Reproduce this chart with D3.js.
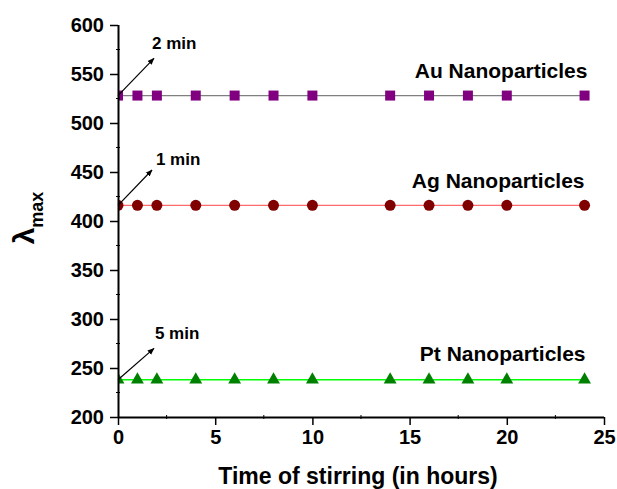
<!DOCTYPE html>
<html lang="en">

<head>
    <meta charset="UTF-8">
    <title>lambda max vs time of stirring</title>
    <script src="https://d3js.org/d3.v7.min.js"></script>
    <style>
        body {
            margin: 0;
            background: white;
            font-family: "Liberation Sans", Arial, Helvetica, sans-serif;
        }

        svg text {
            font-weight: bold;
            fill: black;
        }
    </style>
</head>

<body>
    <svg id="vis" width="617" height="489"></svg>
    <script>
        // stirring time (hours)
        const hours = [0, 1, 2, 4, 6, 8, 10, 14, 16, 18, 20, 24];

        // lambda max (nm) for each metal
        const auValues = [528, 528, 528, 528, 528, 528, 528, 528, 528, 528, 528, 528];
        const agValues = [416, 416, 416, 416, 416, 416, 416, 416, 416, 416, 416, 416];
        const ptValues = [238, 238, 238, 238, 238, 238, 238, 238, 238, 238, 238, 238];

        const seriesNames = ["Au Nanoparticles", "Ag Nanoparticles", "Pt Nanoparticles"];

        // where the series names sit (data units)
        const nameX = [24.15, 24.0, 24.05];
        const nameY = [546, 433.5, 257];

        // formation time annotations
        const annoLabels = ["2 min", "1 min", "5 min"];
        const annoHeadX = [1.85, 1.75, 1.85];
        const annoHeadY = [566, 452, 270];
        const annoTextX = [1.75, 1.95, 1.9];
        const annoTextY = [575.5, 457, 279.5];

        const xTicks = [0, 5, 10, 15, 20, 25];
        const yTicks = [200, 250, 300, 350, 400, 450, 500, 550, 600];

        const svg = d3.select("#vis");
        const mLeft = 118, mRight = 604, mTop = 25, mBottom = 417;

        const x = d3.scaleLinear().domain([0, 25]).range([mLeft, mRight]);
        const y = d3.scaleLinear().domain([200, 600]).range([mBottom, mTop]);

        const series = [
            { values: auValues, line: "#808080", fill: "#800080", shape: d3.symbolSquare, size: 100 },
            { values: agValues, line: "#ff6a6a", fill: "#800000", shape: d3.symbolCircle, size: 95 },
            { values: ptValues, line: "#00ff00", fill: "#008000", shape: d3.symbolTriangle, size: 72 }
        ];

        const defs = svg.append("defs");
        defs.append("clipPath").attr("id", "plot")
            .append("rect")
            .attr("x", mLeft).attr("y", 0)
            .attr("width", mRight - mLeft + 20).attr("height", mBottom);

        defs.append("marker")
            .attr("id", "head")
            .attr("viewBox", "0 0 10 10")
            .attr("refX", 9).attr("refY", 5)
            .attr("markerWidth", 7).attr("markerHeight", 7)
            .attr("markerUnits", "userSpaceOnUse")
            .attr("orient", "auto")
            .append("path")
            .attr("d", "M0,1 L10,5 L0,9 Z")
            .attr("fill", "black");

        // series lines + markers
        const plot = svg.append("g").attr("clip-path", "url(#plot)");
        const line = d3.line().x((d, i) => x(hours[i])).y(d => y(d));

        series.forEach(s => {
            plot.append("path")
                .attr("d", line(s.values))
                .attr("fill", "none")
                .attr("stroke", s.line)
                .attr("stroke-width", 1.3);

            plot.selectAll(null)
                .data(s.values)
                .join("path")
                .attr("transform", (d, i) => `translate(${x(hours[i])},${y(d)})`)
                .attr("d", d3.symbol().type(s.shape).size(s.size))
                .attr("fill", s.fill);
        });

        // axes
        const xAxis = svg.append("g")
            .attr("transform", `translate(0,${mBottom})`)
            .call(d3.axisBottom(x).tickValues(xTicks).tickSize(8).tickPadding(5).tickFormat(d3.format("d")));
        const yAxis = svg.append("g")
            .attr("transform", `translate(${mLeft},0)`)
            .call(d3.axisLeft(y).tickValues(yTicks).tickSize(8).tickPadding(6).tickFormat(d3.format("d")));

        [xAxis, yAxis].forEach(g => {
            g.select(".domain").attr("stroke", "black").attr("stroke-width", 2);
            g.selectAll(".tick line").attr("stroke", "black").attr("stroke-width", 1.5);
            g.selectAll(".tick text")
                .attr("font-size", 20)
                .attr("font-family", "Liberation Sans, Arial, sans-serif");
        });
        xAxis.select(".domain").attr("d", `M${mLeft},0.5H${mRight}`);
        yAxis.select(".domain").attr("d", `M0.5,${mBottom}V${mTop}`);

        // minor ticks
        const xMinor = d3.range(2.5, 25, 5);
        const yMinor = d3.range(225, 600, 50);
        svg.append("g").selectAll("line")
            .data(xMinor)
            .join("line")
            .attr("x1", d => x(d)).attr("x2", d => x(d))
            .attr("y1", mBottom - 2).attr("y2", mBottom + 2)
            .attr("stroke", "black").attr("stroke-width", 1);
        svg.append("g").selectAll("line")
            .data(yMinor)
            .join("line")
            .attr("y1", d => y(d)).attr("y2", d => y(d))
            .attr("x1", mLeft - 2).attr("x2", mLeft + 2)
            .attr("stroke", "black").attr("stroke-width", 1);

        // series names
        svg.append("g").selectAll("text")
            .data(seriesNames)
            .join("text")
            .attr("x", (d, i) => x(nameX[i]))
            .attr("y", (d, i) => y(nameY[i]))
            .attr("text-anchor", "end")
            .attr("font-size", 21)
            .text(d => d);

        // arrows and time labels
        series.forEach((s, i) => {
            svg.append("line")
                .attr("x1", x(hours[0])).attr("y1", y(s.values[0]))
                .attr("x2", x(annoHeadX[i])).attr("y2", y(annoHeadY[i]))
                .attr("stroke", "black").attr("stroke-width", 1.2)
                .attr("marker-end", "url(#head)");
            svg.append("text")
                .attr("x", x(annoTextX[i]))
                .attr("y", y(annoTextY[i]))
                .attr("font-size", 17)
                .text(annoLabels[i]);
        });

        // axis titles
        svg.append("text")
            .attr("x", (mLeft + mRight) / 2 - 3)
            .attr("y", 484)
            .attr("text-anchor", "middle")
            .attr("font-size", 23)
            .text("Time of stirring (in hours)");

        const yTitle = svg.append("text")
            .attr("transform", "translate(34,218) rotate(-90)")
            .attr("text-anchor", "middle");
        yTitle.append("tspan").attr("font-size", 30).text("λ");
        yTitle.append("tspan").attr("font-size", 18).attr("dy", 9).text("max");
    </script>
</body>

</html>
